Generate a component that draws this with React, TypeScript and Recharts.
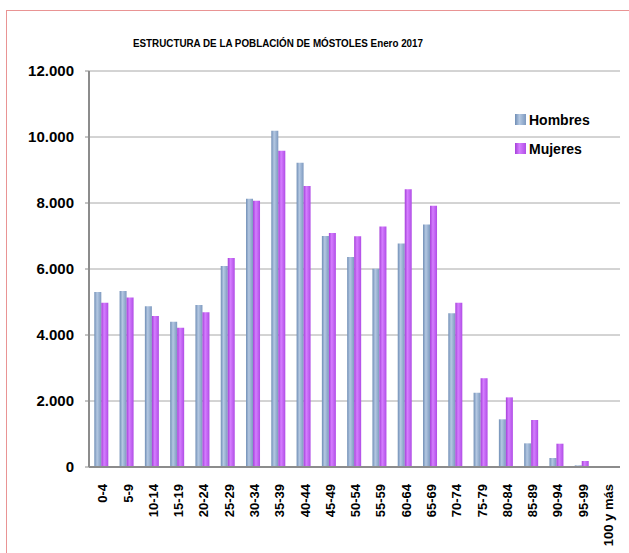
import { BarChart, Bar, XAxis, YAxis, CartesianGrid } from "recharts";

const AGE_GROUPS = [
  "0-4", "5-9", "10-14", "15-19", "20-24", "25-29", "30-34", "35-39", "40-44",
  "45-49", "50-54", "55-59", "60-64", "65-69", "70-74", "75-79", "80-84",
  "85-89", "90-94", "95-99", "100 y más",
];

const HOMBRES = [
  5300, 5330, 4870, 4400, 4910, 6090, 8130, 10190, 9220,
  7000, 6360, 6010, 6770, 7350, 4660, 2250, 1445,
  717, 273, 50, 5,
];

const MUJERES = [
  4980, 5140, 4575, 4220, 4690, 6330, 8070, 9585, 8515,
  7090, 6990, 7290, 8420, 7920, 4980, 2690, 2110,
  1424, 706, 182, 30,
];

const Y_TICKS = [0, 2000, 4000, 6000, 8000, 10000, 12000];

const SERIES = [
  { key: "hombres", name: "Hombres", stops: ["#6f8db5", "#b4c8e2", "#7d99bf"] },
  { key: "mujeres", name: "Mujeres", stops: ["#a43fd8", "#d57dff", "#b04de6"] },
];

const data = AGE_GROUPS.map((age, i) => ({
  age,
  hombres: HOMBRES[i],
  mujeres: MUJERES[i],
}));

const FONT = "'Liberation Sans', Arial, sans-serif";

function fmt(v: number) {
  return String(v).replace(/\B(?=(\d{3})+(?!\d))/g, ".");
}

function AgeTick({ x, y, payload }: any) {
  return (
    <text
      x={x + 1}
      y={y + 9}
      transform={`rotate(-90, ${x + 1}, ${y + 9})`}
      textAnchor="end"
      dy="0.36em"
      fontFamily={FONT}
      fontWeight="bold"
      fontSize={13}
      fill="#000"
    >
      {payload.value}
    </text>
  );
}

function Grad({ id, stops }: { id: string; stops: string[] }) {
  return (
    <linearGradient id={id} x1="0" y1="0" x2="1" y2="0">
      <stop offset="0%" stopColor={stops[0]} />
      <stop offset="40%" stopColor={stops[1]} />
      <stop offset="100%" stopColor={stops[2]} />
    </linearGradient>
  );
}

export default function App() {
  return (
    <div style={{ position: "absolute", left: 0, top: 0, width: 629, height: 553, background: "#fff", overflow: "hidden" }}>
      <div
        style={{
          position: "absolute",
          left: 6,
          top: 10,
          width: 640,
          height: 560,
          borderTop: "1.5px solid #e99494",
          borderLeft: "1.5px solid #e99494",
        }}
      />
      <BarChart
        width={629}
        height={553}
        data={data}
        margin={{ top: 71, right: 9, bottom: 6, left: 9 }}
        barCategoryGap="21%"
        barGap={0}
      >
        <defs>
          {SERIES.map((s) => (
            <Grad key={s.key} id={`grad-${s.key}`} stops={s.stops} />
          ))}
        </defs>
        <text
          x={278}
          y={47}
          textAnchor="middle"
          fontFamily={FONT}
          fontWeight="bold"
          fontSize={11.5}
          textLength={290}
          lengthAdjust="spacingAndGlyphs"
        >
          ESTRUCTURA DE LA POBLACIÓN DE MÓSTOLES  Enero 2017
        </text>
        <CartesianGrid vertical={false} stroke="#a8a8a8" />
        <XAxis
          dataKey="age"
          interval={0}
          height={80}
          tickLine={false}
          axisLine={{ stroke: "#8c8c8c", strokeWidth: 2 }}
          tick={<AgeTick />}
        />
        <YAxis
          width={80}
          domain={[0, 12000]}
          ticks={Y_TICKS}
          tickFormatter={fmt}
          tickSize={4}
          tickMargin={11}
          tickLine={{ stroke: "#8c8c8c" }}
          axisLine={{ stroke: "#8c8c8c", strokeWidth: 2 }}
          tick={{ fill: "#000", fontFamily: FONT, fontWeight: "bold", fontSize: 15 }}
        />
        {SERIES.map((s) => (
          <Bar key={s.key} dataKey={s.key} name={s.name} fill={`url(#grad-${s.key})`} isAnimationActive={false} />
        ))}
      </BarChart>
      <div
        style={{
          position: "absolute",
          left: 515,
          top: 105,
          fontFamily: FONT,
          fontWeight: "bold",
          fontSize: 14,
        }}
      >
        {SERIES.map((s) => (
          <div key={s.key} style={{ display: "flex", alignItems: "center", height: 29 }}>
            <svg width={13} height={12} style={{ marginRight: 1 }}>
              <defs>
                <Grad id={`lg-${s.key}`} stops={s.stops} />
              </defs>
              <rect x={0} y={0} width={11} height={11} fill={`url(#lg-${s.key})`} />
            </svg>
            <span>{s.name}</span>
          </div>
        ))}
      </div>
    </div>
  );
}
